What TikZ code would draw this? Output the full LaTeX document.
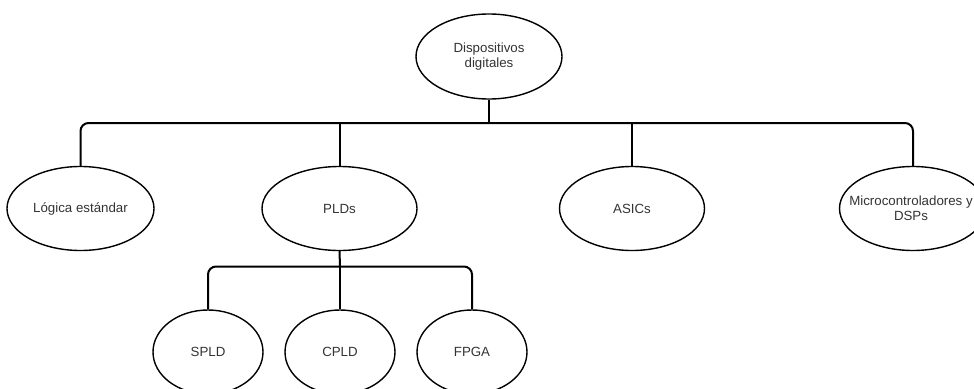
\documentclass[tikz,border=0pt]{standalone}
\usepackage{fontspec}
\setmainfont{Liberation Sans}
\usetikzlibrary{shapes.geometric}
\begin{document}
\begin{tikzpicture}[x=1pt,y=-1pt,
  txt/.style={align=center,font=\fontsize{13.3}{15}\selectfont,text=black!80,inner sep=0pt},
  ell/.style={ellipse,draw=black,line width=1.4pt,inner sep=0pt,
    minimum height=84pt,txt},
  conn/.style={line width=2pt,rounded corners=8pt}]
\useasboundingbox (0,0) rectangle (974,388);
\clip (0,0) rectangle (974,388);
\node[ell,minimum width=146pt,minimum height=85pt] (root) at (489,56.5) {Dispositivos\\digitales};
\node[ell,minimum width=147pt] (log) at (80.5,208.5) {Lógica estándar};
\node[ell,minimum width=155pt] (pld) at (339.5,208.5) {PLDs};
\node[ell,minimum width=145pt] (asic) at (632,208.5) {ASICs};
\node[ell,minimum width=147pt] (micro) at (913,208.5) {};
\node[txt] (microtxt) at (911,208.5) {Microcontroladores y\\DSPs};
\node[ell,minimum width=110pt] (spld) at (208,352) {SPLD};
\node[ell,minimum width=110pt] (cpld) at (340,352) {CPLD};
\node[ell,minimum width=110pt] (fpga) at (472,352) {FPGA};
\coordinate (j1) at (489,123);
\coordinate (j2) at (340,266.5);
\draw[conn] (root.south) -- (j1);
\draw[conn] (log.north) |- (j1) -| (micro.north);
\draw[conn] (pld.north |- j1) -- (pld.north);
\draw[conn] (asic.north |- j1) -- (asic.north);
\draw[conn] (pld.south) -- (j2);
\draw[conn] (spld.north) |- (j2) -| (fpga.north);
\draw[conn] (j2) -- (cpld.north);
\end{tikzpicture}
\end{document}
